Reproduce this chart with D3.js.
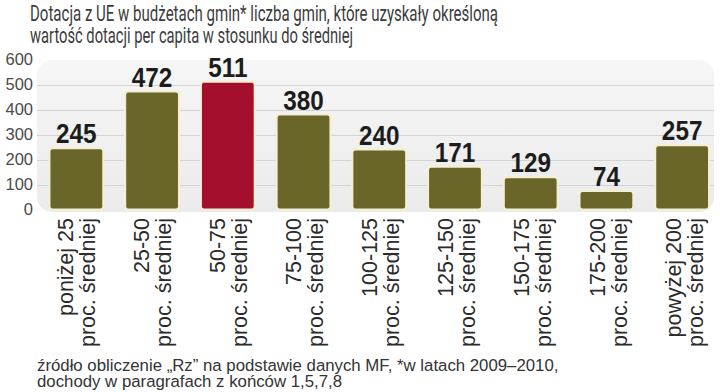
<!DOCTYPE html>
<html>
<head>
<meta charset="utf-8">
<script src="https://cdn.jsdelivr.net/npm/d3@7"></script>
<style>
  body { margin: 0; background: #fff; }
  svg { display: block; }
</style>
</head>
<body>
<div id="chart"></div>
<script>
// data
const categories = ['poniżej 25', '25-50', '50-75', '75-100', '100-125', '125-150', '150-175', '175-200', 'powyżej 200']
const values = [245, 472, 511, 380, 240, 171, 129, 74, 257]
const highlighted = ['50-75']
const yTicks = [0, 100, 200, 300, 400, 500, 600]
const gridTicks = [100, 200, 300, 400, 500]
const subLabel = 'proc. średniej'
const titleLines = [
  'Dotacja z UE w budżetach gmin* liczba gmin, które uzyskały określoną',
  'wartość dotacji per capita w stosunku do średniej'
]
const sourceLines = [
  'źródło obliczenie „Rz” na podstawie danych MF, *w latach 2009–2010,',
  'dochody w paragrafach z końców 1,5,7,8'
]

const width = 720
const height = 392
const data = categories.map((c, i) => ({ cat: c, value: values[i] }))

const svg = d3.select('#chart').append('svg')
  .attr('width', width)
  .attr('height', height)

const x = d3.scaleBand().domain(categories).range([38.5, 720]).paddingInner(0.29).paddingOuter(0.145)
const y = d3.scaleLinear().domain([0, 600]).range([209.5, 59.5])
// the category labels drift a little wider than the bars
const xLabel = d3.scalePoint().domain(categories).range([77, 685])

// grey panel behind the bars
const defs = svg.append('defs')
const grad = defs.append('linearGradient').attr('id', 'panel').attr('x1', 0).attr('y1', 0).attr('x2', 0).attr('y2', 1)
grad.append('stop').attr('offset', '0%').attr('stop-color', '#f6f6f6')
grad.append('stop').attr('offset', '100%').attr('stop-color', '#ebebeb')

svg.append('rect')
  .attr('x', 37).attr('y', 60)
  .attr('width', 677).attr('height', 152)
  .attr('rx', 15)
  .attr('fill', 'url(#panel)')

svg.append('g')
  .selectAll('line')
  .data(gridTicks)
  .join('line')
  .attr('x1', 37).attr('x2', 714)
  .attr('y1', d => Math.round(y(d)) + 0.5)
  .attr('y2', d => Math.round(y(d)) + 0.5)
  .attr('stroke', '#d3d3d3')
  .attr('stroke-width', 1)

// y axis labels only
svg.append('g')
  .attr('transform', 'translate(33,0)')
  .call(d3.axisLeft(y).tickValues(yTicks).tickSize(0).tickPadding(0))
  .call(g => g.select('.domain').remove())
  .call(g => g.selectAll('text')
    .attr('fill', '#4a4a4a')
    .style('font', '16.5px "Liberation Sans", Arial, sans-serif'))

// bars
svg.append('g')
  .selectAll('rect')
  .data(data)
  .join('rect')
  .attr('x', d => x(d.cat))
  .attr('y', d => y(d.value))
  .attr('width', x.bandwidth())
  .attr('height', d => y(0) - y(d.value))
  .attr('rx', 3)
  .attr('fill', d => highlighted.includes(d.cat) ? '#a50f2e' : '#6a6529')
  .attr('stroke', '#f3efd3')
  .attr('stroke-width', 2)

// values above the bars (bold, squeezed a bit to look condensed)
svg.append('g')
  .selectAll('text')
  .data(data)
  .join('text')
  .attr('transform', d => `translate(${x(d.cat) + x.bandwidth() / 2},${y(d.value) - 5}) scale(0.9,1)`)
  .attr('text-anchor', 'middle')
  .attr('fill', '#1c1c1c')
  .style('font', 'bold 27px "Liberation Sans", Arial, sans-serif')
  .text(d => d.value)

// rotated category labels
const lab = svg.append('g')
  .selectAll('text')
  .data(categories)
  .join('text')
  .attr('transform', d => `translate(${xLabel(d)},218) rotate(-90)`)
  .attr('text-anchor', 'end')
  .attr('fill', '#2a2a2a')
  .style('font', '21.5px "Liberation Sans", Arial, sans-serif')

lab.append('tspan').attr('x', 0).attr('y', -4.5).text(d => d)
lab.append('tspan').attr('x', 0).attr('y', 18).text(subLabel)

// title - the original face is a very narrow light grotesque, so squeeze it
const titleWidths = [468, 323]
svg.append('g')
  .selectAll('text')
  .data(titleLines)
  .join('text')
  .attr('x', 30)
  .attr('y', (d, i) => 21 + i * 22)
  .attr('fill', '#3c3c3c')
  .attr('textLength', (d, i) => titleWidths[i])
  .attr('lengthAdjust', 'spacingAndGlyphs')
  .style('font', '21.5px Roboto, "Liberation Sans", sans-serif')
  .text(d => d)

// source note
svg.append('g')
  .selectAll('text')
  .data(sourceLines)
  .join('text')
  .attr('x', 37)
  .attr('y', (d, i) => 371 + i * 15.5)
  .attr('fill', '#333')
  .style('font', '16.8px "Liberation Sans", Arial, sans-serif')
  .text(d => d)
</script>
</body>
</html>
